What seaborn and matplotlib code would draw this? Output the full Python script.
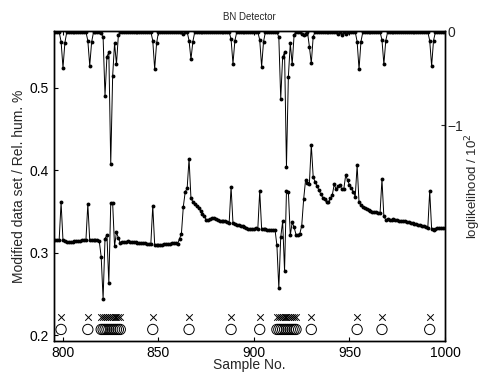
import numpy as np
import matplotlib
matplotlib.use("Agg")
import matplotlib.pyplot as plt
import seaborn as sns

# sample numbers 796..1000
samples = list(range(796, 1001))

# relative humidity (left axis)
rel_hum = [
    .316, .316, .316, .361, .315, .314, .313, .313, .313, .313,
    .314, .314, .314, .314, .315, .315, .315, .359, .315, .315,
    .315, .315, .315, .314, .295, .244, .317, .322, .263, .360,
    .360, .308, .325, .318, .312, .313, .313, .313, .314, .313,
    .313, .313, .313, .312, .312, .312, .312, .312, .311, .311,
    .311, .357, .310, .310, .310, .310, .310, .311, .311, .311,
    .311, .312, .312, .312, .311, .317, .323, .356, .374, .378,
    .414, .366, .362, .359, .357, .354, .351, .347, .344, .340,
    .340, .341, .342, .342, .341, .340, .339, .339, .338, .338,
    .337, .336, .380, .336, .335, .334, .334, .333, .332, .331,
    .330, .329, .329, .329, .329, .330, .329, .375, .329, .329,
    .329, .328, .328, .328, .328, .328, .309, .257, .319, .338,
    .278, .375, .374, .321, .337, .331, .322, .322, .323, .333,
    .365, .388, .385, .384, .431, .392, .386, .381, .376, .371,
    .367, .365, .361, .361, .366, .370, .383, .377, .381, .382,
    .377, .377, .394, .388, .382, .378, .374, .368, .406, .361,
    .358, .356, .354, .353, .352, .351, .350, .349, .349, .348,
    .348, .389, .344, .340, .341, .340, .340, .341, .340, .340,
    .339, .339, .338, .338, .337, .337, .336, .336, .335, .335,
    .334, .334, .333, .332, .331, .330, .375, .329, .328, .329,
    .330, .330, .330, .330, .330,
]

# loglikelihood / 10^2 (right axis)
loglik = [
    0, 0, 0, -0.104, -0.384, -0.115, 0, 0, 0, 0,
    0, 0, 0, 0, 0, 0, 0, -0.093, -0.362, -0.108,
    0, 0, 0, 0, -0.014, -0.057, -0.685, -0.265, -0.219, -1.419,
    -0.473, -0.122, -0.348, -0.032, 0, 0, 0, 0, 0, 0,
    0, 0, 0, 0, 0, 0, 0, 0, 0, 0,
    0, -0.093, -0.398, -0.122, 0, 0, 0, 0, 0, 0,
    0, 0, 0, 0, 0, 0, 0, -0.025, 0, 0,
    -0.093, -0.294, -0.104, 0, 0, 0, 0, 0, 0, 0,
    0, 0, 0, 0, 0, 0, 0, 0, 0, 0,
    0, 0, -0.079, -0.341, -0.093, 0, 0, 0, 0, 0,
    0, 0, 0, 0, 0, 0, 0, -0.086, -0.373, -0.104,
    0, 0, 0, 0, 0, 0, 0, -0.057, -0.720, -0.272,
    -0.219, -1.448, -0.480, -0.122, -0.348, -0.032, 0, 0, 0, -0.020,
    -0.030, -0.020, 0, -0.158, -0.337, -0.050, 0, 0, 0, 0,
    0, 0, 0, 0, 0, 0, 0, 0, -0.020, 0,
    -0.030, 0, -0.020, 0, 0, 0, 0, 0, -0.104, -0.401,
    -0.104, 0, 0, 0, 0, 0, 0, 0, 0, 0,
    0, -0.086, -0.348, -0.093, 0, 0, 0, 0, 0, 0,
    0, 0, 0, 0, 0, 0, 0, 0, 0, 0,
    0, 0, 0, 0, 0, 0, -0.093, -0.366, -0.093, 0,
    0, 0, 0, 0, 0,
]

# anomaly positions (detected = x, true = o)
anomalies = [799, 813, 820, 821, 822, 823, 824, 825, 826, 827, 828, 829, 830,
             847, 866, 888, 903, 912, 913, 914, 915, 916, 917, 918, 919, 920,
             921, 922, 930, 954, 967, 992]
detect_level = 0.222
true_level = 0.207

sns.set_style("ticks")
plt.rcParams['font.family'] = ['Liberation Sans', 'DejaVu Sans']
plt.rcParams['axes.linewidth'] = 1.0

fig, ax = plt.subplots(figsize=(4.84, 3.76), dpi=100)
fig.subplots_adjust(left=0.1116, right=0.9194, top=0.9176, bottom=0.0931)

sns.lineplot(x=samples, y=rel_hum, ax=ax, color='k', linewidth=0.7,
             marker='o', markersize=2.8, markeredgewidth=0)
sns.scatterplot(x=anomalies, y=[detect_level] * len(anomalies), ax=ax,
                marker='x', s=22, color='k', linewidth=0.7)
sns.scatterplot(x=anomalies, y=[true_level] * len(anomalies), ax=ax,
                marker='o', s=55, facecolors='none', edgecolor='k', linewidth=0.7)

ax.set_xlim(795.3, 1000)
ax.set_ylim(0.193, 0.569)
ax.set_xticks([800, 850, 900, 950, 1000])
ax.set_yticks([0.2, 0.3, 0.4, 0.5])
ax.set_yticklabels(['0.2', '0.3', '0.4', '0.5'])
ax.tick_params(direction='in', length=3, top=True, right=True,
               labelright=False, labelsize=10, color='k', labelcolor='k')
ax.set_xlabel("Sample No.", fontsize=10, labelpad=-1)
ax.set_ylabel("Modified data set / Rel. hum. %", fontsize=10, labelpad=3)
ax.set_title("BN Detector", fontsize=7, pad=8)

ax2 = ax.twinx()
sns.lineplot(x=samples, y=loglik, ax=ax2, color='k', linewidth=0.7,
             marker='o', markersize=2.8, markeredgewidth=0)
ax2.set_ylim(-3.32, 0.01)
ax2.set_yticks([-1, 0])
ax2.tick_params(direction='in', length=3, labelsize=10, pad=2)
ax2.set_ylabel("loglikelihood / 10$^2$", fontsize=9.5, labelpad=0)

for a in (ax, ax2):
    for s in a.spines.values():
        s.set_visible(True)
        s.set_color('k')

fig.savefig("out.png", dpi=100)
